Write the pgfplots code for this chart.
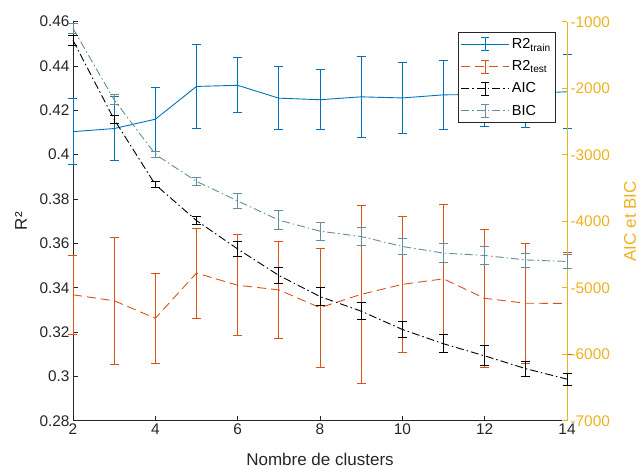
\documentclass[border=0pt]{standalone}
\usepackage{pgfplots}
\pgfplotsset{compat=1.18}
\usepackage{fontspec}
\setmainfont{Liberation Sans}
\setsansfont{Liberation Sans}
\definecolor{mblue}{rgb}{0,0.447,0.741}
\definecolor{morange}{rgb}{0.85,0.325,0.098}
\definecolor{myellow}{rgb}{0.929,0.694,0.125}
\definecolor{mgray}{rgb}{0.15,0.15,0.15}
\definecolor{mteal}{rgb}{0.38,0.56,0.62}
\pgfplotsset{
  common/.style={scale only axis, width=494bp, height=399bp, at={(0,0)}, anchor=south west,
    xmin=2, xmax=14, tick align=inside, major tick length=5bp, clip=false,
    /pgf/number format/assume math mode=true, /pgf/number format/1000 sep={},
    scaled y ticks=false,
    tick label style={font=\fontsize{15.4bp}{18bp}\selectfont},
    label style={font=\fontsize{17bp}{20bp}\selectfont}},
  eb/.style={no marks, line width=0.9bp,
    error bars/y dir=both, error bars/y explicit,
    error bars/error mark options={rotate=90, mark size=4.5bp, solid, line width=0.9bp},
    error bars/error bar style={solid, line width=0.9bp}},
  ebleg/.style={legend image code/.code={
    \draw[##1] (0bp,0bp) -- (48bp,0bp);
    \draw[##1, solid] (24bp,-6.5bp) -- (24bp,6.5bp) (20bp,-6.5bp) -- (28bp,-6.5bp) (20bp,6.5bp) -- (28bp,6.5bp);}},
  dashedm/.style={dash pattern=on 9bp off 5bp},
  dashdotm/.style={dash pattern=on 8bp off 3bp on 1.5bp off 3bp},
}
\begin{document}
\begin{tikzpicture}
\path[use as bounding box] (-73bp,-48.3bp) rectangle (566bp,420.7bp);
\begin{axis}[common,
  ymin=0.28, ymax=0.46,
  ytick={0.28,0.3,0.32,0.34,0.36,0.38,0.4,0.42,0.44,0.46},
  xtick={2,4,6,8,10,12,14},
  axis x line*=bottom, axis y line*=left,
  axis line style={mgray, line width=0.8bp},
  tick style={mgray, line width=0.8bp},
  tick label style={mgray},
  xlabel={Nombre de clusters},
  xlabel style={at={(axis description cs:0.5,-0.0977)}, anchor=center, mgray},
  ylabel={R²},
  ylabel style={at={(axis description cs:-0.1053,0.5)}, anchor=center, mgray},
]
\addplot[mblue, eb] coordinates {
(2,0.4104) +- (0,0.0150)
(3,0.4118) +- (0,0.0145)
(4,0.4160) +- (0,0.0144)
(5,0.4308) +- (0,0.0188)
(6,0.4313) +- (0,0.0124)
(7,0.4255) +- (0,0.0143)
(8,0.4248) +- (0,0.0135)
(9,0.4261) +- (0,0.0182)
(10,0.4256) +- (0,0.0160)
(11,0.4270) +- (0,0.0154)
(12,0.4272) +- (0,0.0146)
(13,0.4275) +- (0,0.0150)
(14,0.4284) +- (0,0.0166)
};
\addplot[morange, dashedm, eb] coordinates {
(2,0.3368) +- (0,0.0178)
(3,0.3341) +- (0,0.0287)
(4,0.3262) +- (0,0.0204)
(5,0.3466) +- (0,0.0203)
(6,0.3411) +- (0,0.0227)
(7,0.3390) +- (0,0.0217)
(8,0.3310) +- (0,0.0269)
(9,0.3370) +- (0,0.0400)
(10,0.3415) +- (0,0.0306)
(11,0.3440) +- (0,0.0334)
(12,0.3352) +- (0,0.0310)
(13,0.3330) +- (0,0.0270)
(14,0.3329) +- (0,0.0230)
};
\end{axis}
\begin{axis}[common,
  ymin=-7000, ymax=-1000,
  ytick={-7000,-6000,-5000,-4000,-3000,-2000,-1000},
  axis x line=none, axis y line*=right,
  axis line style={myellow, line width=0.8bp},
  tick style={myellow, line width=0.8bp},
  tick label style={myellow},
  ylabel={AIC et BIC},
  ylabel style={at={(axis description cs:1.1275,0.5)}, anchor=center, myellow},
  legend style={at={(0.9777,0.9734)}, anchor=north east, draw=mgray, fill=white,
    line width=0.6bp, font=\fontsize{14.5bp}{16bp}\selectfont, text=black,
    inner xsep=3bp, inner ysep=4bp, row sep=6.5bp},
  legend cell align=left,
]
\addlegendimage{mblue, line width=0.9bp, ebleg}
\addlegendentry{R2\textsubscript{train}}
\addlegendimage{morange, line width=0.9bp, dashedm, ebleg}
\addlegendentry{R2\textsubscript{test}}
\addplot[black, dashdotm, ebleg, eb] coordinates {
(2,-1280) +- (0,80)
(3,-2470) +- (0,62)
(4,-3450) +- (0,42)
(5,-3990) +- (0,60)
(6,-4418) +- (0,107)
(7,-4815) +- (0,120)
(8,-5133) +- (0,140)
(9,-5353) +- (0,130)
(10,-5628) +- (0,117)
(11,-5843) +- (0,137)
(12,-6025) +- (0,150)
(13,-6218) +- (0,112)
(14,-6375) +- (0,90)
};
\addlegendentry{AIC}
\addplot[mteal, dashdotm, ebleg, eb] coordinates {
(2,-1100) +- (0,75)
(3,-2175) +- (0,75)
(4,-2994) +- (0,45)
(5,-3401) +- (0,62)
(6,-3695) +- (0,107)
(7,-3983) +- (0,145)
(8,-4150) +- (0,137)
(9,-4230) +- (0,140)
(10,-4380) +- (0,117)
(11,-4480) +- (0,142)
(12,-4515) +- (0,137)
(13,-4583) +- (0,105)
(14,-4605) +- (0,107)
};
\addlegendentry{BIC}
\end{axis}
\end{tikzpicture}
\end{document}
